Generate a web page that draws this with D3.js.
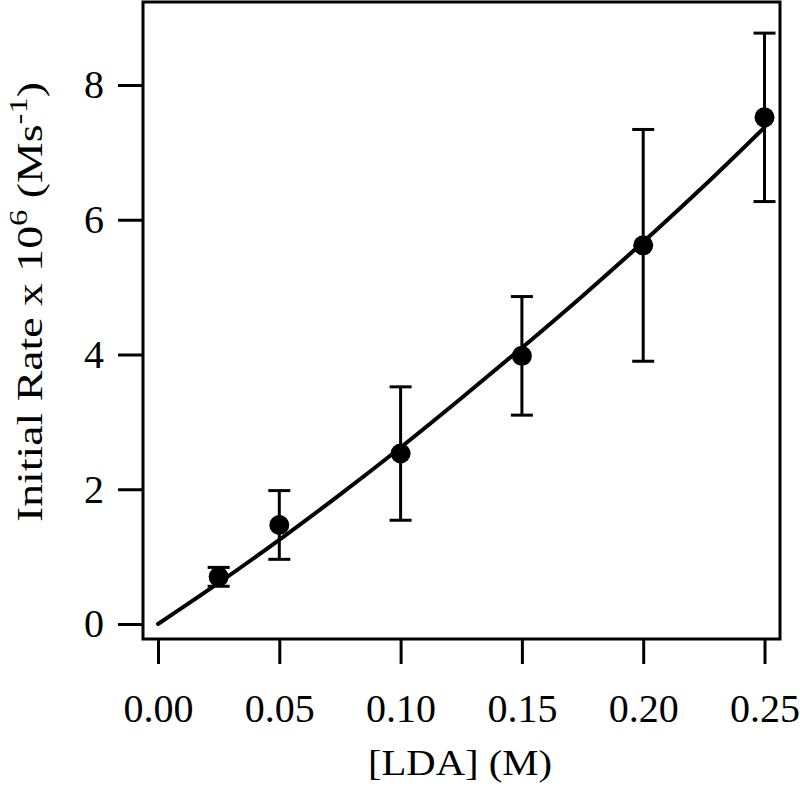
<!DOCTYPE html>
<html>
<head>
<meta charset="utf-8">
<script src="https://cdn.jsdelivr.net/npm/d3@7"></script>
<style>
  body { margin: 0; background: #fff; }
  svg { display: block; }
</style>
</head>
<body>
<div class="canvas"></div>
<script>
// measured points: [LDA] (M) vs initial rate x 1e6 (M/s)
const conc = [0.025, 0.05, 0.10, 0.15, 0.20, 0.25];
const rate = [0.70, 1.47, 2.53, 3.98, 5.62, 7.52];
const rateErr = [0.14, 0.51, 0.99, 0.88, 1.72, 1.25];

// fitted curve
const fitConc = [0, 0.025, 0.05, 0.075, 0.10, 0.125, 0.15, 0.175, 0.20, 0.225, 0.25];
const fitRate = [0, 0.61, 1.25, 1.92, 2.62, 3.35, 4.10, 4.87, 5.67, 6.50, 7.37];

const xTicks = [0, 0.05, 0.10, 0.15, 0.20, 0.25];
const yTicks = [0, 2, 4, 6, 8];

const width = 800;
const height = 791;
// plot frame
const [fl, ft, fr, fb] = [143, 2, 780, 639];

const svg = d3.select(".canvas")
  .append("svg")
  .attr("width", width)
  .attr("height", height);

const x = d3.scaleLinear()
  .domain([0, 0.25])
  .range([158, 764.5]);

const y = d3.scaleLinear()
  .domain([0, 8])
  .range([624, 85]);

const font = "'Liberation Serif', 'DejaVu Serif', serif";

// frame
svg.append("rect")
  .attr("x", fl)
  .attr("y", ft)
  .attr("width", fr - fl)
  .attr("height", fb - ft)
  .attr("fill", "none")
  .attr("stroke", "#000")
  .attr("stroke-width", 3);

// axes
const xAxis = svg.append("g")
  .attr("transform", `translate(0, ${fb})`)
  .call(d3.axisBottom(x).tickValues(xTicks).tickFormat(d3.format(".2f")).tickSize(25));

const yAxis = svg.append("g")
  .attr("transform", `translate(${fl}, 0)`)
  .call(d3.axisLeft(y).tickValues(yTicks).tickFormat(d3.format("d")).tickSize(25).tickPadding(14));

[xAxis, yAxis].forEach(g => {
  g.select(".domain").remove();
  g.selectAll(".tick line").attr("stroke", "#000").attr("stroke-width", 3);
  g.selectAll(".tick text")
    .attr("fill", "#000")
    .style("font-family", font)
    .style("font-size", "40px");
});
xAxis.selectAll(".tick text").attr("y", 83).attr("dy", 0);

// fit line
const line = d3.line()
  .x((d, i) => x(fitConc[i]))
  .y(d => y(d))
  .curve(d3.curveMonotoneX);

svg.append("path")
  .datum(fitRate)
  .attr("d", line)
  .attr("fill", "none")
  .attr("stroke", "#000")
  .attr("stroke-width", 4)
  .attr("stroke-linecap", "round");

// error bars
const pts = conc.map((c, i) => ({c: c, r: rate[i], e: rateErr[i]}));
const bars = svg.append("g")
  .attr("stroke", "#000")
  .attr("stroke-width", 3);

bars.selectAll(".stem")
  .data(pts)
  .enter()
  .append("line")
  .attr("x1", d => x(d.c))
  .attr("x2", d => x(d.c))
  .attr("y1", d => y(d.r - d.e))
  .attr("y2", d => y(d.r + d.e));

const capW = 11;
[-1, 1].forEach(s => {
  bars.selectAll(".cap" + s)
    .data(pts)
    .enter()
    .append("line")
    .attr("x1", d => x(d.c) - capW)
    .attr("x2", d => x(d.c) + capW)
    .attr("y1", d => y(d.r + s * d.e))
    .attr("y2", d => y(d.r + s * d.e));
});

svg.append("g")
  .selectAll("circle")
  .data(pts)
  .enter()
  .append("circle")
  .attr("cx", d => x(d.c))
  .attr("cy", d => y(d.r))
  .attr("r", 10)
  .attr("fill", "#000");

// axis titles
svg.append("text")
  .attr("x", 460)
  .attr("y", 775)
  .attr("text-anchor", "middle")
  .attr("textLength", 184)
  .attr("lengthAdjust", "spacingAndGlyphs")
  .style("font-family", font)
  .style("font-size", "35px")
  .text("[LDA] (M)");

const yt = svg.append("text")
  .attr("transform", "translate(42, 302) rotate(-90)")
  .attr("text-anchor", "middle")
  .attr("textLength", 440)
  .attr("lengthAdjust", "spacingAndGlyphs")
  .style("font-family", font)
  .style("font-size", "35px");
yt.append("tspan").text("Initial Rate x 10");
yt.append("tspan").attr("dy", -15).style("font-size", "25px").text("6");
yt.append("tspan").attr("dy", 15).text(" (Ms");
yt.append("tspan").attr("dy", -15).style("font-size", "25px").text("-1");
yt.append("tspan").attr("dy", 15).text(")");
</script>
</body>
</html>
